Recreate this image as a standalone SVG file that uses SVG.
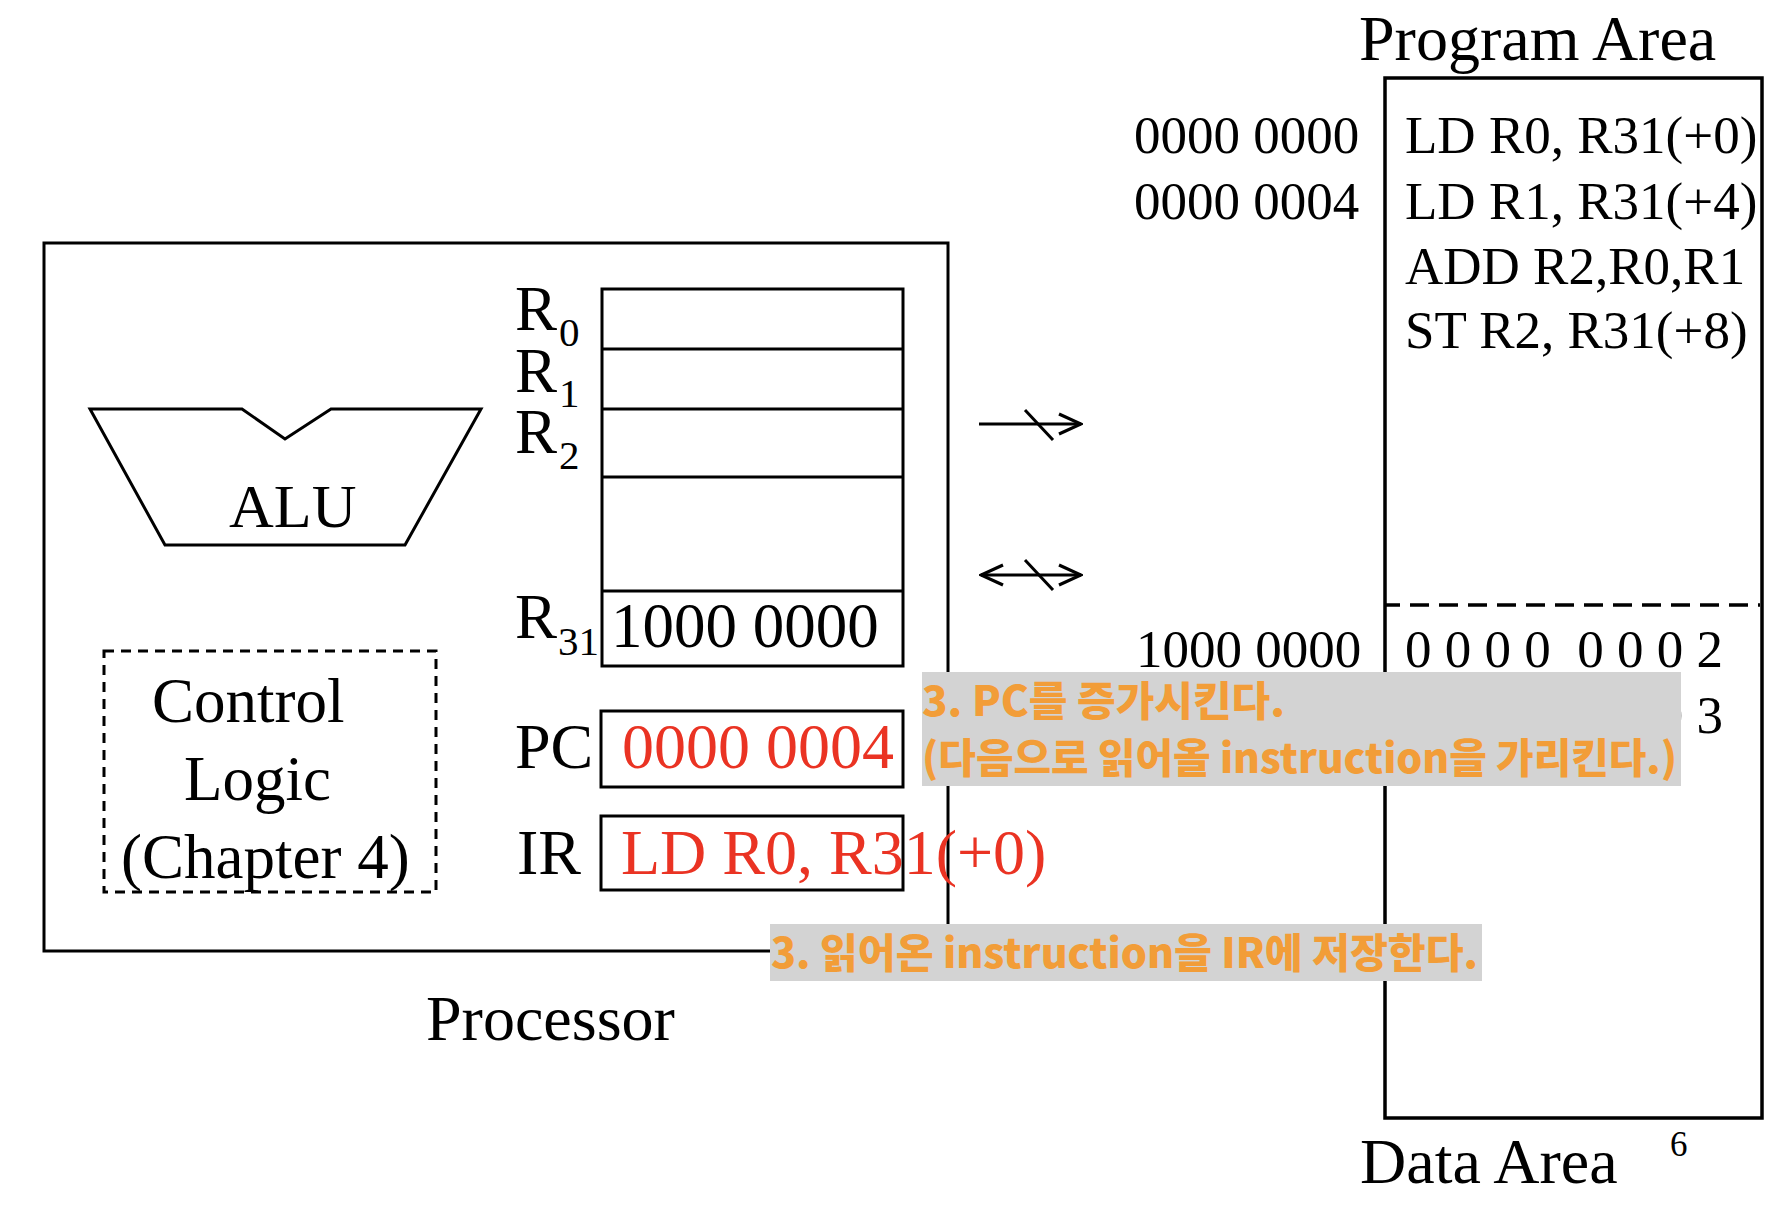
<svg xmlns="http://www.w3.org/2000/svg" width="1776" height="1214" viewBox="0 0 1776 1214">
<style>
  .t { font-family: "Liberation Serif", "Times New Roman", serif; fill: #000; }
  .red { font-family: "Liberation Serif", "Times New Roman", serif; fill: #EA3323; }
  .ln { fill: none; stroke: #000; stroke-width: 3; }
  .lbl { fill: #D3D3D3; }
  .ko { font-family: "Noto Sans CJK KR", "Noto Sans", sans-serif; font-weight: 900; fill: #F29D38; font-size: 41px; }
</style>
<defs>
  <marker id="chev" viewBox="0 0 26 24" refX="24" refY="12" markerWidth="26" markerHeight="24" markerUnits="userSpaceOnUse" orient="auto-start-reverse">
    <path d="M2,2 L24,12 L2,22" fill="none" stroke="#000" stroke-width="3.2"/>
  </marker>
</defs>
<rect width="1776" height="1214" fill="#fff"/>

<g id="processor">
  <rect class="ln" x="44" y="243" width="904" height="708"/>
  <text class="t" x="426" y="1040" font-size="64">Processor</text>
</g>

<g id="alu">
  <polygon class="ln" points="90,409 242,409 285,439 331,409 481,409 405,545 165,545"/>
  <text class="t" x="229" y="527" font-size="62">ALU</text>
</g>

<g id="control-logic">
  <rect x="104" y="651" width="332" height="241" fill="none" stroke="#000" stroke-width="3" stroke-dasharray="10 7"/>
  <text class="t" x="152" y="722" font-size="63">Control</text>
  <text class="t" x="184" y="800" font-size="63">Logic</text>
  <text class="t" x="121" y="878" font-size="63">(Chapter 4)</text>
</g>

<g id="registers">
  <rect class="ln" x="602" y="289" width="301" height="377"/>
  <line class="ln" x1="602" y1="349" x2="903" y2="349"/>
  <line class="ln" x1="602" y1="409" x2="903" y2="409"/>
  <line class="ln" x1="602" y1="477" x2="903" y2="477"/>
  <line class="ln" x1="602" y1="591" x2="903" y2="591" stroke-width="2.5"/>
  <text class="t" x="515" y="330" font-size="63">R<tspan x="559" y="346" font-size="41">0</tspan></text>
  <text class="t" x="515" y="392" font-size="63">R<tspan x="559" y="407" font-size="41">1</tspan></text>
  <text class="t" x="515" y="453" font-size="63">R<tspan x="559" y="469" font-size="41">2</tspan></text>
  <text class="t" x="515" y="638" font-size="63">R<tspan x="558" y="655" font-size="41">31</tspan></text>
  <text class="t" x="611" y="647" font-size="63">1000 0000</text>
</g>

<g id="pc">
  <rect class="ln" x="601" y="711" width="302" height="76"/>
  <text class="t" x="515" y="768" font-size="64">PC</text>
  <text class="red" x="622" y="768" font-size="64">0000 0004</text>
</g>

<g id="ir">
  <rect class="ln" x="601" y="816" width="302" height="74"/>
  <text class="t" x="517" y="874" font-size="64">IR</text>
  <text class="red" x="621" y="874" font-size="64">LD R0, R31(+0)</text>
</g>

<g id="memory">
  <rect x="1385" y="78" width="377" height="1040" fill="none" stroke="#000" stroke-width="3.5"/>
  <line x1="1385" y1="605" x2="1760" y2="605" stroke="#000" stroke-width="3.5" stroke-dasharray="19 10" stroke-dashoffset="4"/>
  <text class="t" x="1359" y="60" font-size="64">Program Area</text>
  <text class="t" x="1360" y="1183" font-size="64">Data Area</text>
  <text class="t" x="1670" y="1156" font-size="35">6</text>
  <text class="t" x="1134" y="153" font-size="53">0000 0000</text>
  <text class="t" x="1134" y="219" font-size="53">0000 0004</text>
  <text class="t" x="1405" y="153" font-size="53">LD R0, R31(+0)</text>
  <text class="t" x="1405" y="219" font-size="53">LD R1, R31(+4)</text>
  <text class="t" x="1405" y="284" font-size="53">ADD R2,R0,R1</text>
  <text class="t" x="1405" y="348" font-size="53">ST R2, R31(+8)</text>
  <text class="t" x="1136" y="667" font-size="53">1000 0000</text>
  <text class="t" x="1405" y="667" font-size="53" xml:space="preserve">0 0 0 0  0 0 0 2</text>
  <text class="t" x="1405" y="733" font-size="53" xml:space="preserve">0 0 0 0  0 0 0 3</text>
</g>

<g id="connectors">
  <line class="ln" x1="979" y1="424" x2="1081" y2="424" marker-end="url(#chev)"/>
  <line class="ln" x1="1025" y1="410" x2="1053" y2="440"/>
  <line class="ln" x1="981" y1="575" x2="1081" y2="575" marker-start="url(#chev)" marker-end="url(#chev)"/>
  <line class="ln" x1="1025" y1="560" x2="1053" y2="590"/>
</g>

<g id="note-pc">
  <rect class="lbl" x="922" y="672" width="759" height="114"/>
  <text class="ko" x="922" y="716" textLength="363" lengthAdjust="spacingAndGlyphs">3. PC를 증가시킨다.</text>
  <text class="ko" x="922" y="773" textLength="755" lengthAdjust="spacingAndGlyphs">(다음으로 읽어올 instruction을 가리킨다.)</text>
</g>

<g id="note-ir">
  <rect class="lbl" x="770" y="924" width="712" height="57"/>
  <text class="ko" x="771" y="968" textLength="707" lengthAdjust="spacingAndGlyphs">3. 읽어온 instruction을 IR에 저장한다.</text>
</g>
</svg>
